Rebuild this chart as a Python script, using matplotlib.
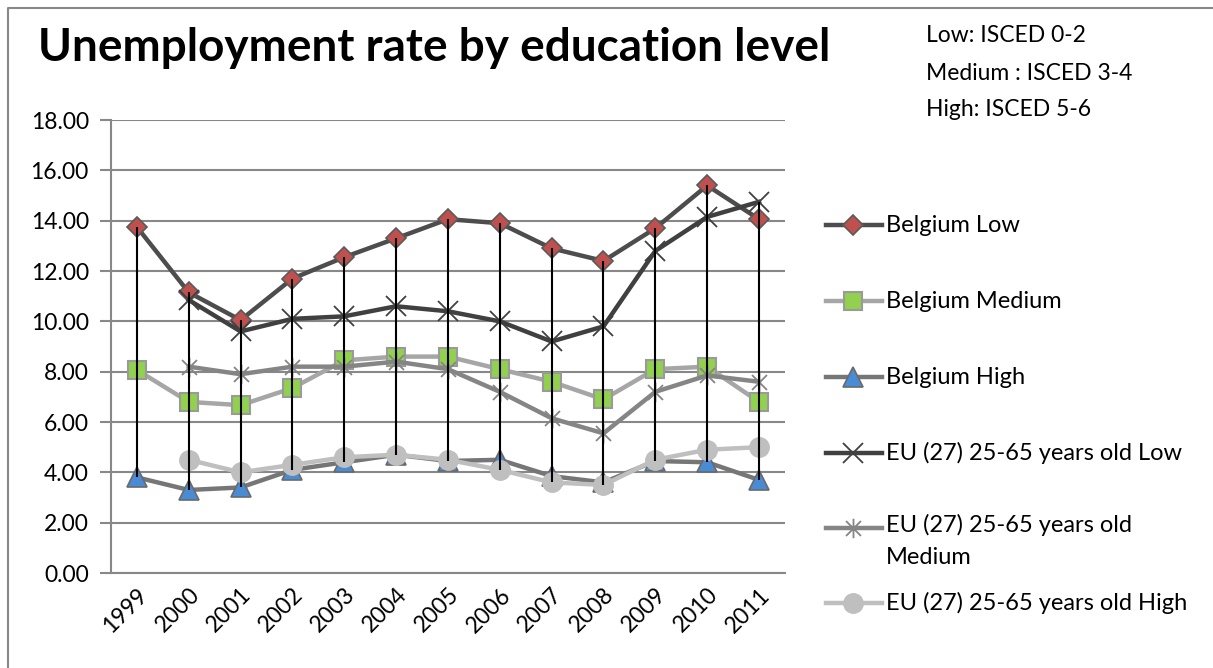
import matplotlib.pyplot as plt
from matplotlib.lines import Line2D
from matplotlib.path import Path
import numpy as np

plt.rcParams['font.family'] = ['Lato', 'DejaVu Sans']

years = ['1999', '2000', '2001', '2002', '2003', '2004', '2005',
         '2006', '2007', '2008', '2009', '2010', '2011']

be_low = [13.75, 11.15, 10.05, 11.7, 12.55, 13.3, 14.06, 13.9, 12.9, 12.4, 13.7, 15.4, 14.06]
be_medium = [8.07, 6.8, 6.67, 7.35, 8.45, 8.6, 8.6, 8.1, 7.6, 6.9, 8.1, 8.2, 6.8]
be_high = [3.8, 3.3, 3.4, 4.1, 4.4, 4.7, 4.45, 4.5, 3.85, 3.6, 4.45, 4.4, 3.7]
eu_low = [np.nan, 10.85, 9.6, 10.1, 10.2, 10.6, 10.4, 10.0, 9.2, 9.8, 12.8, 14.15, 14.75]
eu_medium = [np.nan, 8.2, 7.9, 8.2, 8.2, 8.4, 8.1, 7.2, 6.15, 5.55, 7.2, 7.85, 7.6]
eu_high = [np.nan, 4.5, 4.0, 4.3, 4.6, 4.7, 4.5, 4.1, 3.6, 3.5, 4.5, 4.9, 5.0]

labels = ['Belgium Low', 'Belgium Medium', 'Belgium High',
          'EU (27) 25-65 years old Low', 'EU (27) 25-65 years old\nMedium',
          'EU (27) 25-65 years old High']

# Excel-style asterisk: an x with a vertical stroke through it
asterisk = Path([(-1, -1), (1, 1), (-1, 1), (1, -1), (0, -1.3), (0, 1.3)],
                [Path.MOVETO, Path.LINETO, Path.MOVETO, Path.LINETO, Path.MOVETO, Path.LINETO])

styles = [
    dict(color='#4d4d4d', marker='D', ms=10, mfc='#c0504d', mec='#5a5a5a', mew=1.2),
    dict(color='#a6a6a6', marker='s', ms=13, mfc='#92d050', mec='#9a9a9a', mew=1.5),
    dict(color='#767676', marker='^', ms=14, mfc='#4a8bd6', mec='#6a6a6a', mew=1.2),
    dict(color='#404040', marker='x', ms=14, mfc='none', mec='#404040', mew=1.3),
    dict(color='#858585', marker=asterisk, ms=14, mfc='none', mec='#858585', mew=1.3),
    dict(color='#bfbfbf', marker='o', ms=14, mfc='#bfbfbf', mec='#bfbfbf', mew=1.0),
]
series = [be_low, be_medium, be_high, eu_low, eu_medium, eu_high]

fig = plt.figure(figsize=(12.13, 6.68), dpi=100)
ax = fig.add_axes([0.0915, 0.1422, 0.5556, 0.6781])

x = np.arange(len(years))
for vals, st in zip(series, styles):
    ax.plot(x, vals, lw=3.2, solid_joinstyle='round', zorder=3, **st)

# high-low lines across all series
data = np.array(series, dtype=float)
ax.vlines(x, np.nanmin(data, axis=0), np.nanmax(data, axis=0),
          color='black', lw=1.5, zorder=5)

ax.set_xlim(-0.5, 12.5)
ax.set_ylim(0, 18)
yt = np.arange(0, 18.1, 2)
ax.set_yticks(yt)
ax.set_yticklabels([f'{v:.2f}' for v in yt], fontsize=16.5)
ax.set_xticks(x)
ax.set_xticklabels(years, fontsize=16.5, rotation=45, ha='right', rotation_mode='anchor')
ax.tick_params(axis='x', length=0, pad=8)
ax.tick_params(axis='y', length=8, width=1.5, color='#888888', pad=8)
ax.grid(axis='y', color='#888888', lw=1.5, zorder=0)
ax.set_axisbelow(True)
for side in ['top', 'right']:
    ax.spines[side].set_visible(False)
for side in ['left', 'bottom']:
    ax.spines[side].set_color('#888888')
    ax.spines[side].set_linewidth(1.5)

fig.text(0.031, 0.928, 'Unemployment rate by education level', fontsize=33,
         fontweight='bold', va='center', ha='left')
for txt, y in zip(['Low: ISCED 0-2', 'Medium : ISCED 3-4', 'High: ISCED 5-6'],
                  [35, 73, 109]):
    fig.text(926 / 1213, 1 - y / 668, txt, fontsize=16.5, va='center', ha='left')

# legend drawn by hand so the wrapped label keeps its handle on the first line
leg_y = [225, 301, 377, 453, 528, 603]
for lab, st, y in zip(labels, styles, leg_y):
    yf = 1 - y / 668
    fig.add_artist(Line2D([826 / 1213, 882 / 1213], [yf, yf], lw=3.2,
                          transform=fig.transFigure, markevery=[], **st))
    fig.add_artist(Line2D([853 / 1213], [yf], lw=0, transform=fig.transFigure,
                          **{k: v for k, v in st.items() if k != 'color'}))
    if '\n' in lab:
        fig.text(886 / 1213, 1 - (y - 14) / 668, lab, fontsize=17, va='top',
                 ha='left', linespacing=1.65)
    else:
        fig.text(886 / 1213, yf, lab, fontsize=17, va='center', ha='left')

# chart frame
fig.add_artist(Line2D([8 / 1213, 8 / 1213, 1], [0, 1 - 8 / 668, 1 - 8 / 668],
                      color='#888888', lw=1.5, transform=fig.transFigure))

fig.savefig('out.png', dpi=100)
